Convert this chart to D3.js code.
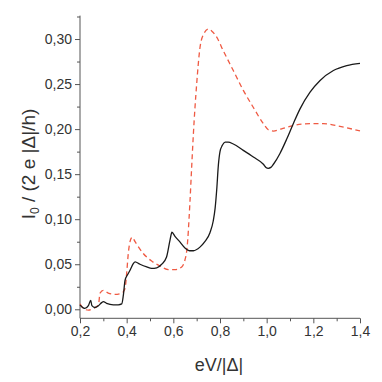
<!DOCTYPE html>
<html><head><meta charset="utf-8">
<script src="https://cdn.jsdelivr.net/npm/d3@7/dist/d3.min.js"></script>
<style>body{margin:0;background:#fff}svg{display:block}</style>
</head><body>
<svg id="c" width="382" height="382"></svg>
<script>
const blackX = [0.2,0.221,0.236,0.246,0.251,0.264,0.279,0.293,0.300,0.314,0.343,0.364,0.379,0.386,0.393,0.403,0.414,0.429,0.436,0.457,0.486,0.507,0.529,0.55,0.571,0.586,0.594,0.607,0.629,0.65,0.669,0.686,0.714,0.735,0.757,0.771,0.779,0.786,0.793,0.800,0.810,0.822,0.835,0.857,0.9,0.943,0.986,0.997,1.007,1.018,1.029,1.057,1.086,1.114,1.143,1.186,1.229,1.286,1.343,1.4];
const blackY = [0.0048,0.001,0.004,0.010,0.004,0.002,0.004,0.0074,0.0085,0.0066,0.005,0.005,0.006,0.016,0.032,0.038,0.043,0.051,0.0527,0.050,0.047,0.0454,0.046,0.050,0.058,0.077,0.0855,0.081,0.0745,0.068,0.065,0.065,0.069,0.075,0.085,0.098,0.112,0.133,0.160,0.175,0.182,0.1855,0.1855,0.1835,0.1764,0.169,0.161,0.1575,0.1565,0.1575,0.161,0.173,0.189,0.206,0.2225,0.241,0.254,0.265,0.2705,0.273];
const redX = [0.2,0.214,0.236,0.257,0.279,0.286,0.3,0.321,0.35,0.379,0.393,0.4,0.407,0.417,0.424,0.436,0.471,0.507,0.543,0.579,0.607,0.636,0.650,0.657,0.662,0.667,0.671,0.679,0.686,0.7,0.714,0.729,0.75,0.764,0.786,0.814,0.857,0.9,0.943,0.986,1.007,1.029,1.064,1.114,1.186,1.243,1.314,1.4];
const redY = [0.006,0.001,-0.001,0.001,0.005,0.018,0.021,0.018,0.0166,0.018,0.023,0.040,0.062,0.0775,0.080,0.075,0.062,0.0535,0.048,0.044,0.044,0.047,0.055,0.064,0.078,0.099,0.118,0.16,0.195,0.25,0.290,0.305,0.311,0.309,0.302,0.287,0.265,0.243,0.224,0.206,0.1993,0.1978,0.2004,0.204,0.206,0.206,0.203,0.198];
const xTicks = [0.2,0.4,0.6,0.8,1.0,1.2,1.4];
const yTicks = [0.00,0.05,0.10,0.15,0.20,0.25,0.30];

const svg = d3.select("#c");
const x = d3.scaleLinear().domain([0.2,1.4]).range([80,360]);
const y = d3.scaleLinear().domain([-0.01,0.326]).range([318.3,15.6]);
const loc = d3.formatLocale({decimal:",",thousands:".",grouping:[3],currency:["",""]});
const fx = loc.format(".1f"), fy = loc.format(".2f");
const axisCol = "#555", textCol = "#333";
const font = "Liberation Sans, Arial, sans-serif";

const gx = svg.append("g").attr("transform","translate(0,318.3)");
gx.call(d3.axisBottom(x).tickValues(d3.range(0.3,1.4,0.2)).tickSize(3).tickFormat(""));
gx.call(g=>g.select(".domain").remove());
const gx2 = svg.append("g").attr("transform","translate(0,318.3)")
  .call(d3.axisBottom(x).tickValues(xTicks).tickSize(5).tickSizeOuter(0).tickPadding(3).tickFormat(fx));
gx2.select(".domain").attr("d","M80,0H360");
const gy = svg.append("g").attr("transform","translate(80,0)");
gy.call(d3.axisLeft(y).tickValues(d3.range(0.025,0.326,0.05)).tickSize(3).tickFormat(""));
gy.call(g=>g.select(".domain").remove());
const gy2 = svg.append("g").attr("transform","translate(80,0)")
  .call(d3.axisLeft(y).tickValues(yTicks).tickSize(5).tickSizeOuter(0).tickPadding(3).tickFormat(fy));
gy2.select(".domain").attr("d","M0,318.3V15.6");
svg.selectAll(".tick line, .domain").attr("stroke",axisCol).attr("stroke-width",1);
svg.selectAll(".tick text").attr("fill",textCol).style("font-family",font).style("font-size","14px");

const line = d3.line().x(d=>x(d[0])).y(d=>y(d[1])).curve(d3.curveMonotoneX);
svg.append("path").datum(redX.map((v,i)=>[v,redY[i]]))
  .attr("d",line).attr("fill","none").attr("stroke","#ef5a43").attr("stroke-width",1.3).attr("stroke-dasharray","5,3.5");
svg.append("path").datum(blackX.map((v,i)=>[v,blackY[i]]))
  .attr("d",line).attr("fill","none").attr("stroke","#1a1a1a").attr("stroke-width",1.3);

svg.append("text").attr("x",219).attr("y",371).attr("text-anchor","middle")
  .attr("fill",textCol).style("font-family",font).style("font-size","18px").text("eV/|Δ|");
const yt = svg.append("text").attr("transform","translate(35,164) rotate(-90)").attr("text-anchor","middle")
  .attr("fill",textCol).style("font-family",font).style("font-size","19px");
yt.append("tspan").text("I");
yt.append("tspan").attr("dy",4).style("font-size","12px").text("0");
yt.append("tspan").attr("dy",-4).text(" / (2 e |Δ|/h)");
</script>
</body></html>
